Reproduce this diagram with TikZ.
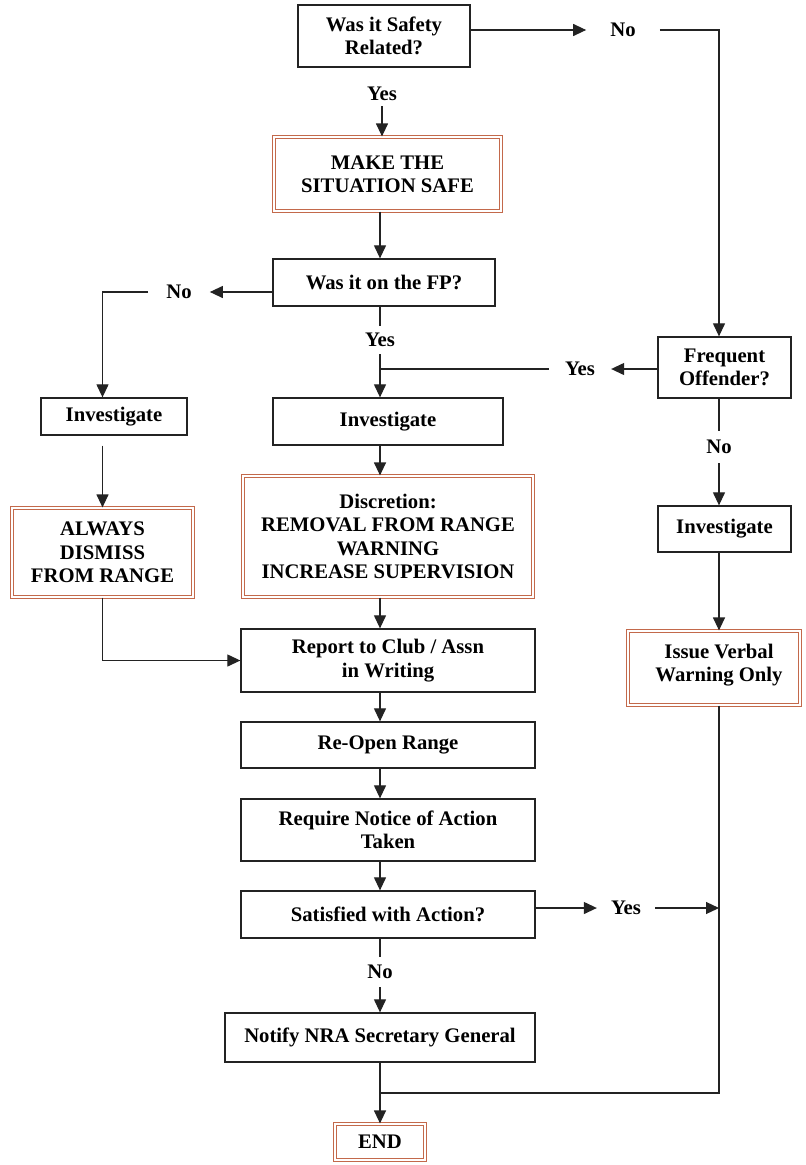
\documentclass[tikz,border=0pt]{standalone}
\usepackage{fontspec}
\setmainfont{Liberation Serif}
\usetikzlibrary{arrows.meta,calc}
\definecolor{dbl}{RGB}{195,105,75}
\definecolor{lncol}{RGB}{35,35,35}
\begin{document}
\begin{tikzpicture}[x=1pt,y=-1pt,
  font=\fontsize{20.7}{23.3}\selectfont\bfseries,
  box/.style={draw=lncol, line width=1.3pt, align=center, inner sep=0pt, fill=white},
  dbox/.style={draw=dbl, double=white, double distance=1.4pt, line width=1.2pt, align=center, inner sep=0pt, fill=white},
  lbl/.style={inner xsep=16pt, inner ysep=5pt},
  arr/.style={draw=lncol, line width=1.2pt, -{Triangle[length=13pt,width=12pt]}},
  conn/.style={draw=lncol, line width=1.2pt}]
\useasboundingbox[fill=white] (0,0) rectangle (806,1165);

% boxes
\node[box, minimum width=172pt, minimum height=62pt] (safe) at (384,36) {Was it Safety\\Related?};
\node[dbox, minimum width=227pt, minimum height=74pt] (make) at (387.5,174) {MAKE THE\\SITUATION SAFE};
\node[box, minimum width=222pt, minimum height=47pt] (fp) at (384,282.5) {Was it on the FP?};
\node[box, minimum width=146pt, minimum height=37pt] (inv1) at (114,416.5) {Investigate};
\node[box, minimum width=230pt, minimum height=47pt] (inv2) at (388,421.5) {Investigate};
\node[dbox, minimum width=181pt, minimum height=89pt] (dism) at (102.5,552.5) {ALWAYS\\DISMISS\\FROM RANGE};
\node[dbox, minimum width=290pt, minimum height=121pt] (disc) at (388,536.5) {Discretion:\\REMOVAL FROM RANGE\\WARNING\\INCREASE SUPERVISION};
\node[box, minimum width=133pt, minimum height=61pt] (freq) at (724.5,367.5) {Frequent\\Offender?};
\node[box, minimum width=133pt, minimum height=46pt] (inv3) at (724.5,529) {Investigate};
\node[dbox, minimum width=172pt, minimum height=74pt] (verbal) at (714,668) {\hspace*{10pt}Issue Verbal\\\hspace*{10pt}Warning Only\\[-13pt]\mbox{}};
\node[box, minimum width=294pt, minimum height=63pt] (report) at (388,660.5) {Report to Club / Assn\\in Writing};
\node[box, minimum width=294pt, minimum height=46pt] (reopen) at (388,745) {Re-Open Range};
\node[box, minimum width=294pt, minimum height=62pt] (require) at (388,830) {Require Notice of Action\\Taken};
\node[box, minimum width=294pt, minimum height=47pt] (satis) at (388,914.5) {Satisfied with Action?};
\node[box, minimum width=310pt, minimum height=49pt] (notify) at (380,1037.5) {Notify NRA Secretary General};
\node[dbox, minimum width=90pt, minimum height=36pt] (endn) at (380,1142) {END};

% labels
\node[lbl, inner xsep=24pt] (noTop) at (623,30) {No};
\node[lbl] (yesTop) at (382,94) {Yes};
\node[lbl, inner xsep=18pt] (noL) at (179,292) {No};
\node[lbl, inner ysep=7pt] (yesFP) at (380,340) {Yes};
\node[lbl] (yesR) at (580,369) {Yes};
\node[lbl, inner ysep=9pt] (noR) at (719,447) {No};
\node[lbl, inner xsep=14pt] (yesS) at (626,908) {Yes};
\node[lbl, inner ysep=8pt] (noS) at (380,972) {No};

\coordinate (rc) at (719,0);
\coordinate (jn) at ($(notify.south)!0.5!(endn.north)$);

% connectors
\draw[arr] (safe.east |- noTop) -- (noTop.west);
\draw[arr] (noTop.east) -| (freq.north -| rc);
\draw[arr] (yesTop.south) -- (make.north -| yesTop);
\draw[arr] (make.south -| yesFP) -- (fp.north -| yesFP);
\draw[arr] (fp.west |- noL) -- (noL.east);
\draw[arr] (noL.west) -| (inv1.north -| dism.north);
\draw[conn] (fp.south -| yesFP) -- (yesFP.north);
\draw[arr] (yesFP.south) -- (inv2.north -| yesFP);
\draw[arr] (freq.west |- yesR) -- (yesR.east);
\draw[conn] (yesR.west) -- (yesR.west -| yesFP);
\draw[conn] (freq.south -| rc) -- (noR.north);
\draw[arr] (noR.south) -- (inv3.north -| rc);
\draw[arr] (inv3.south -| rc) -- (verbal.north -| rc);
\draw[arr] ($(inv1.south -| dism.north)+(0,10)$) -- (dism.north);
\draw[arr] (inv2.south -| yesFP) -- (disc.north -| yesFP);
\draw[arr] (disc.south -| yesFP) -- (report.north -| yesFP);
\draw[arr] (dism.south) |- (report.west);
\draw[arr] (report.south -| yesFP) -- (reopen.north -| yesFP);
\draw[arr] (reopen.south -| yesFP) -- (require.north -| yesFP);
\draw[arr] (require.south -| yesFP) -- (satis.north -| yesFP);
\draw[arr] (satis.east |- yesS) -- (yesS.west);
\draw[arr] (yesS.east) -- (yesS -| rc);
\draw[conn] (verbal.south -| rc) |- (jn);
\draw[conn] (satis.south -| noS) -- (noS.north);
\draw[arr] (noS.south) -- (notify.north -| noS);
\draw[arr] (notify.south) -- (endn.north);
\end{tikzpicture}
\end{document}
